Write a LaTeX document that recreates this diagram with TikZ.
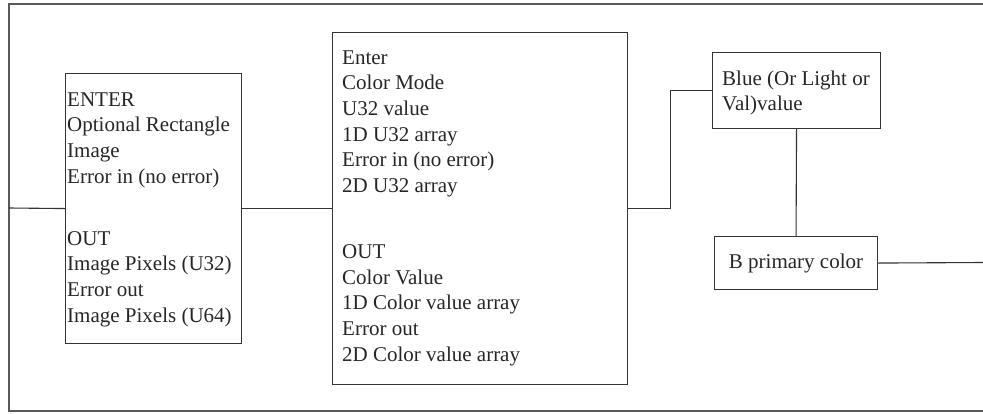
\documentclass[tikz,border=0pt]{standalone}
\usepackage{fontspec}
\setmainfont{Liberation Serif}
\begin{document}
\begin{tikzpicture}[x=1pt,y=-1pt,
  box/.style={draw=black!80,line width=1.1pt,inner sep=0pt,anchor=north west},
  wire/.style={draw=black!80,line width=1.1pt},
  frame/.style={draw=black!65,line width=1.1pt},
  lbl/.style={inner sep=0pt,anchor=base west,text=black!85,font=\fontsize{21}{25.7}\selectfont}]
\useasboundingbox (0,0) rectangle (983,413);
\draw[frame] (983,4) -- (9,4) -- (9,411) -- (983,411);
\coordinate (fl) at (9,208);
\coordinate (fr) at (983,262.5);
\node[box,minimum width=176pt,minimum height=270pt] (b1) at (65,73) {};
\node[box,minimum width=295pt,minimum height=352pt] (b2) at (332,32) {};
\node[box,minimum width=168pt,minimum height=76pt] (blue) at (712,52) {};
\node[box,minimum width=163pt,minimum height=53pt,font=\fontsize{21}{25.7}\selectfont,text=black!85] (bp) at (714,236) {B primary color};
\node[lbl] (t1) at (67,106) {\begin{tabular}[t]{@{}l@{}}ENTER\\Optional Rectangle\\Image\\Error in (no error)\\[36.3pt]OUT\\Image Pixels (U32)\\Error out\\Image Pixels (U64)\end{tabular}};
\node[lbl] (t2) at (342,64) {\begin{tabular}[t]{@{}l@{}}Enter\\Color Mode\\U32 value\\1D U32 array\\Error in (no error)\\2D U32 array\\[40.3pt]OUT\\Color Value\\1D Color value array\\Error out\\2D Color value array\end{tabular}};
\node[lbl] (t3) at (722,85) {\begin{tabular}[t]{@{}l@{}}Blue (Or Light or\\Val)value\end{tabular}};
\draw[wire] (fl) -- (b1.west);
\draw[wire] (b1.east) -- (b2.west);
\draw[wire] (b2.east) -- ++(42,0) |- (blue.west);
\draw[wire] (blue.south) -- (bp.north);
\draw[wire] (bp.east) -- (fr);
\end{tikzpicture}
\end{document}
